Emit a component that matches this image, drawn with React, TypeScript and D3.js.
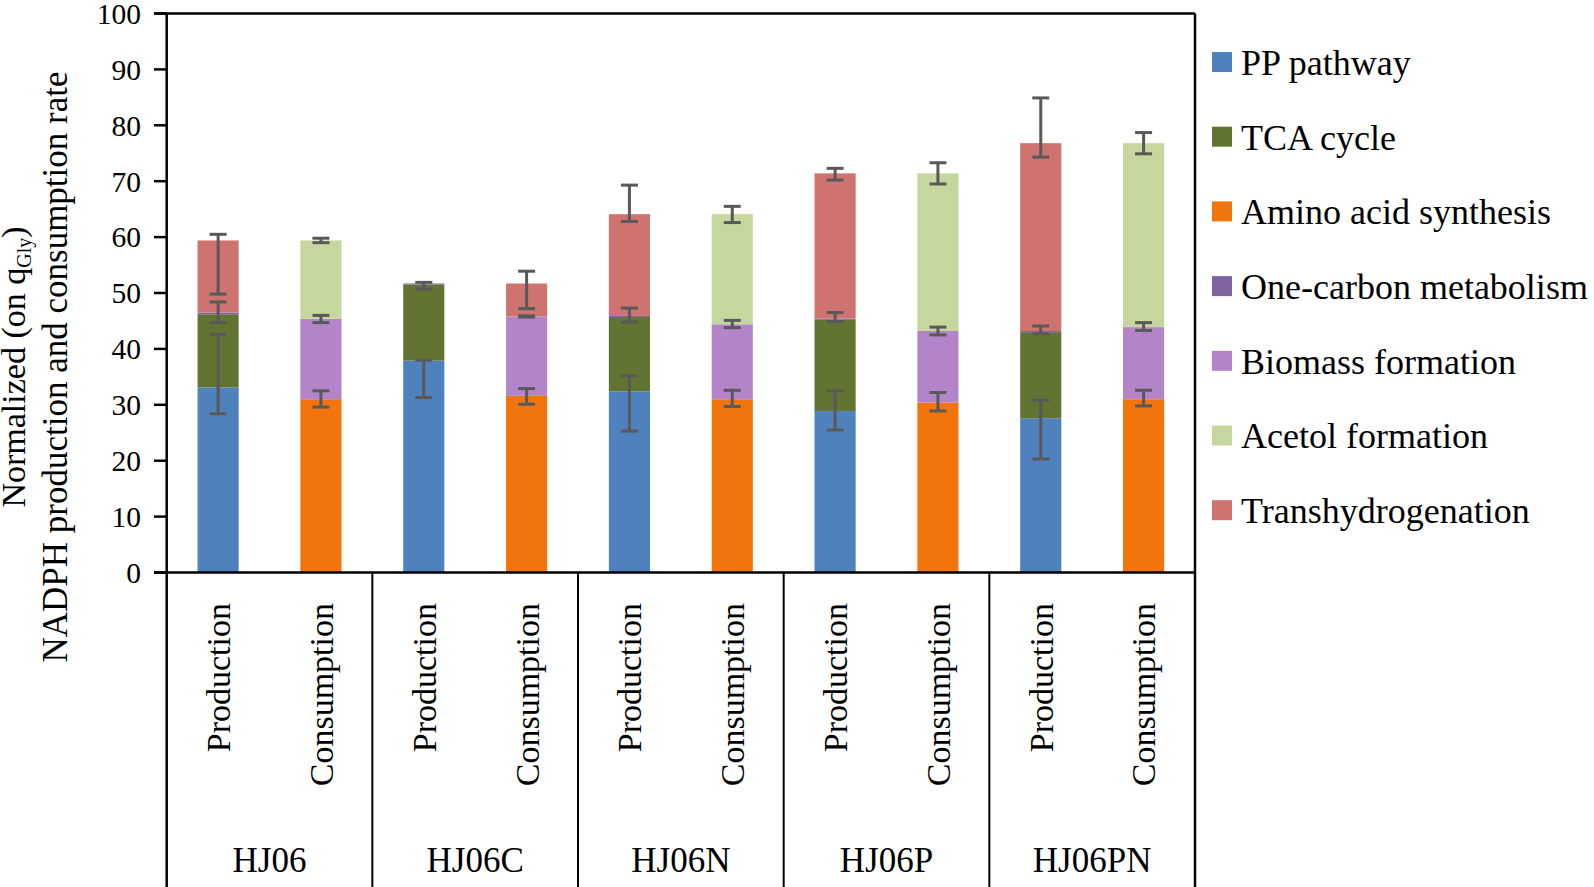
import React from "react";
import * as d3 from "d3";

// ---------- Data ----------
const groups = ["HJ06", "HJ06C", "HJ06N", "HJ06P", "HJ06PN"];
const barTypes = ["Production", "Consumption"];

const seriesNames = [
  "PP pathway",
  "TCA cycle",
  "Amino acid synthesis",
  "One-carbon metabolism",
  "Biomass formation",
  "Acetol formation",
  "Transhydrogenation",
];
const seriesColors = ["#4F81BD", "#627431", "#F2740D", "#8064A2", "#B384C7", "#C5D79C", "#CF7370"];

// order of bars: HJ06 Prod, HJ06 Cons, HJ06C Prod, HJ06C Cons, ...
const ppPathway = [33.1, 0, 37.9, 0, 32.4, 0, 28.9, 0, 27.6, 0];
const tcaCycle = [13.1, 0, 13.6, 0, 13.3, 0, 16.3, 0, 15.4, 0];
const aminoAcid = [0, 31.0, 0, 31.6, 0, 31.0, 0, 30.4, 0, 31.0];
const oneCarbon = [0.3, 0, 0.2, 0, 0.2, 0, 0.2, 0, 0.2, 0];
const biomass = [0, 14.4, 0, 14.2, 0, 13.4, 0, 12.8, 0, 12.9];
const acetol = [0, 14.0, 0, 0, 0, 19.7, 0, 28.2, 0, 32.9];
const transhydrogenation = [12.9, 0, 0, 5.9, 18.2, 0, 26.0, 0, 33.6, 0];

const N = null;
const ppErrPlus = [9.5, N, 0.1, N, 2.8, N, 3.6, N, 3.2, N];
const ppErrMinus = [4.7, N, 6.6, N, 7.1, N, 3.4, N, 7.3, N];
const tcaErrPlus = [2.2, N, 0.4, N, 1.6, N, 1.3, N, 1.1, N];
const tcaErrMinus = [1.5, N, 0.8, N, 0.9, N, 0.3, N, 0.3, N];
const aminoErrPlus = [N, 1.5, N, 1.3, N, 1.6, N, 1.8, N, 1.6];
const aminoErrMinus = [N, 1.4, N, 1.5, N, 1.3, N, 1.5, N, 1.2];
const oneCarbonErrPlus = [N, N, N, N, N, N, N, N, N, N];
const oneCarbonErrMinus = [N, N, N, N, N, N, N, N, N, N];
const biomassErrPlus = [N, 0.6, N, 0.1, N, 0.7, N, 0.7, N, 0.8];
const biomassErrMinus = [N, 0.7, N, 0.1, N, 0.6, N, 0.7, N, 0.6];
const acetolErrPlus = [N, 0.4, N, N, N, 1.4, N, 1.9, N, 1.9];
const acetolErrMinus = [N, 0.4, N, N, N, 1.5, N, 1.9, N, 1.9];
const transErrPlus = [1.1, N, N, 2.2, 5.2, N, 0.9, N, 8.1, N];
const transErrMinus = [9.6, N, N, 4.5, 1.3, N, 1.2, N, 2.5, N];

const yTicks = [0, 10, 20, 30, 40, 50, 60, 70, 80, 90, 100];

const seriesValues = [ppPathway, tcaCycle, aminoAcid, oneCarbon, biomass, acetol, transhydrogenation];
const seriesErrPlus = [ppErrPlus, tcaErrPlus, aminoErrPlus, oneCarbonErrPlus, biomassErrPlus, acetolErrPlus, transErrPlus];
const seriesErrMinus = [ppErrMinus, tcaErrMinus, aminoErrMinus, oneCarbonErrMinus, biomassErrMinus, acetolErrMinus, transErrMinus];

// ---------- Layout ----------
const W = 1594;
const H = 887;
const left = 166.7;
const right = 1195;
const top = 13.5;
const bottom = 572.5;
const FONT = "'Liberation Serif', 'Times New Roman', serif";

export default function App() {
  const barIds = groups.flatMap((g) => barTypes.map((t) => `${g}|${t}`));
  const x = d3.scaleBand<string>().domain(barIds).range([left, right]).paddingInner(0.6).paddingOuter(0.3);
  const xg = d3.scaleBand<string>().domain(groups).range([left, right]);
  const y = d3.scaleLinear().domain([0, 100]).range([bottom, top]);

  const rows = barIds.map((id, i) => {
    const r: any = { id };
    seriesNames.forEach((s, k) => (r[s] = seriesValues[k][i]));
    return r;
  });
  const stacked = d3.stack<any>().keys(seriesNames)(rows);

  const bw = x.bandwidth();
  const capW = 17;
  const errColor = "#595959";

  const errorBars: any[] = [];
  stacked.forEach((layer, k) => {
    layer.forEach((d, i) => {
      const p = seriesErrPlus[k][i];
      const m = seriesErrMinus[k][i];
      if (p == null || m == null) return;
      const cx = (x(barIds[i]) as number) + bw / 2;
      const topV = d[1];
      errorBars.push({ key: `${k}-${i}`, cx, y1: y(topV + p), y2: y(topV - m) });
    });
  });

  return (
    <svg width={W} height={H} style={{ position: "absolute", left: 0, top: 0, background: "#fff" }} fontFamily={FONT}>
      <rect x={0} y={0} width={W} height={H} fill="#fff" />
      {/* bars */}
      {stacked.map((layer, k) => (
        <g key={seriesNames[k]} fill={seriesColors[k]}>
          {layer.map((d, i) =>
            d[1] - d[0] > 0 ? (
              <rect
                key={i}
                x={x(barIds[i])}
                y={y(d[1])}
                width={bw}
                height={y(d[0]) - y(d[1])}
              />
            ) : null
          )}
        </g>
      ))}
      {/* error bars */}
      <g stroke={errColor} strokeWidth={3}>
        {errorBars.map((e) => (
          <g key={e.key}>
            <line x1={e.cx} x2={e.cx} y1={e.y1} y2={e.y2} />
            <line x1={e.cx - capW / 2} x2={e.cx + capW / 2} y1={e.y1} y2={e.y1} />
            <line x1={e.cx - capW / 2} x2={e.cx + capW / 2} y1={e.y2} y2={e.y2} />
          </g>
        ))}
      </g>
      {/* frame and axes */}
      <g stroke="#000" strokeWidth={2.5} fill="none">
        <line x1={left} x2={left} y1={top} y2={H} />
        <line x1={right} x2={right} y1={top} y2={H} />
        <line x1={154} x2={right} y1={top} y2={top} />
        <line x1={154} x2={right} y1={bottom} y2={bottom} />
        {yTicks.map((t) => (
          <line key={t} x1={154} x2={left} y1={y(t)} y2={y(t)} />
        ))}
      </g>
      <g stroke="#000" strokeWidth={2}>
        {groups.slice(1).map((g) => (
          <line key={g} x1={xg(g)} x2={xg(g)} y1={bottom} y2={H} />
        ))}
      </g>
      {/* y tick labels */}
      {yTicks.map((t) => (
        <text key={t} x={141} y={y(t)} dy="0.35em" textAnchor="end" fontSize={29.5} fill="#000">
          {t}
        </text>
      ))}
      {/* category labels */}
      {barIds.map((id) => {
        const cx = (x(id) as number) + bw / 2;
        const label = id.split("|")[1];
        return (
          <text
            key={id}
            transform={`translate(${cx},603) rotate(-90)`}
            textAnchor="end"
            dy="0.35em"
            fontSize={34}
            fill="#000"
          >
            {label}
          </text>
        );
      })}
      {/* group labels */}
      {groups.map((g) => (
        <text
          key={g}
          x={(xg(g) as number) + xg.bandwidth() / 2}
          y={872}
          textAnchor="middle"
          fontSize={35}
          fill="#000"
        >
          {g}
        </text>
      ))}
      {/* y axis title */}
      <text transform="translate(25,367) rotate(-90)" textAnchor="middle" fontSize={34} fill="#000">
        Normalized (on q
        <tspan fontSize={20} dy={6}>Gly</tspan>
        <tspan dy={-6}>)</tspan>
      </text>
      <text transform="translate(67,367) rotate(-90)" textAnchor="middle" fontSize={35} fill="#000">
        NADPH production and consumption rate
      </text>
      {/* legend */}
      {seriesNames.map((s, k) => {
        const cy = 62 + k * 74.7;
        return (
          <g key={s}>
            <rect x={1212} y={cy - 10} width={20} height={20} fill={seriesColors[k]} />
            <text x={1241} y={cy} dy="0.36em" fontSize={36} fill="#000">
              {s}
            </text>
          </g>
        );
      })}
    </svg>
  );
}
